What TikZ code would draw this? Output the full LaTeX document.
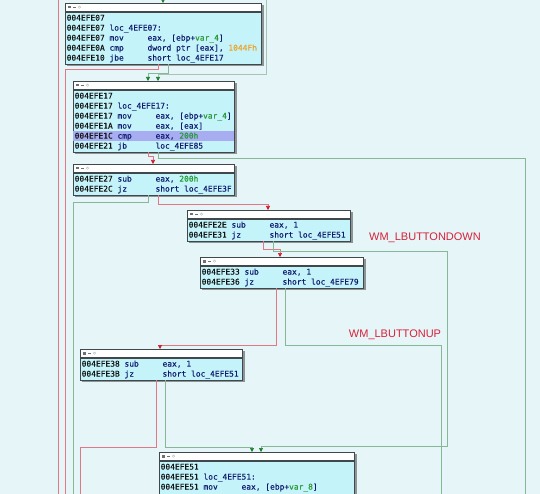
\documentclass[tikz,border=0pt]{standalone}
\usepackage{fontspec}
\usetikzlibrary{calc,arrows.meta}
\newfontfamily\asmfont[FakeBold=0.35]{DejaVu Sans Mono}
\newfontfamily\lblfont{Liberation Sans}
\definecolor{bgc}{HTML}{E6F6F8}
\definecolor{bodyc}{HTML}{C4F4FA}
\definecolor{hdrc}{HTML}{FFFFFF}
\definecolor{framec}{HTML}{40484C}
\definecolor{shadowc}{HTML}{8C9496}
\definecolor{iconc}{HTML}{6A7278}
\definecolor{addrc}{HTML}{141414}
\definecolor{navyc}{HTML}{101C70}
\definecolor{varc}{HTML}{2E9A3A}
\definecolor{numc}{HTML}{F0A020}
\definecolor{grnumc}{HTML}{1E9A2E}
\definecolor{hilitec}{HTML}{A8ACF0}
\definecolor{redlc}{HTML}{E07886}
\definecolor{grnlc}{HTML}{86B898}
\definecolor{greylc}{HTML}{A8C2B4}
\definecolor{redac}{HTML}{D01C2C}
\definecolor{grnac}{HTML}{1E8030}
\definecolor{lblc}{HTML}{D8203A}
\pgfdeclarelayer{bg}
\pgfdeclarelayer{fg}
\pgfsetlayers{bg,main,fg}
\newlength\cw
\newcommand\ad[1]{\makebox[9\cw][l]{\color{addrc}#1}}
\newcommand\mn[1]{\makebox[8\cw][l]{\color{navyc}#1}}
\newcommand\op[1]{{\color{navyc}#1}}
\newcommand\vr[1]{{\color{varc}#1}}
\newcommand\nm[1]{{\color{numc}#1}}
\newcommand\gn[1]{{\color{grnumc}#1}}
\newcommand\rw[1]{\hbox{#1}}
\newcommand\asmrows[1]{\settowidth{\cw}{0}\vtop{\baselineskip=10pt\lineskiplimit=-20pt\lineskip=0pt #1}}
\tikzset{
  hdrbox/.style={draw=framec, fill=hdrc, line width=0.6pt, inner sep=0pt, minimum height=8pt},
  bodybox/.style={draw=framec, fill=bodyc, line width=0.6pt, inner sep=0pt},
  asmtext/.style={inner sep=0pt, anchor=base west, font=\asmfont\fontsize{7.9}{10}\selectfont},
  redl/.style={draw=redlc, line width=0.7pt, -{Triangle[length=4pt,width=4pt,color=redac]}},
  redn/.style={draw=redlc, line width=0.7pt},
  grnl/.style={draw=grnlc, line width=0.7pt, -{Triangle[length=4pt,width=4pt,color=grnac]}},
  grnn/.style={draw=grnlc, line width=0.7pt},
  greyl/.style={draw=greylc, line width=0.7pt, -{Triangle[length=4pt,width=4pt,color=grnac]}},
  wmlabel/.style={inner sep=0pt, text=lblc, font=\lblfont\fontsize{11}{13}\selectfont}
}
% name, left, top, width, body height, rows
\newcommand\idablk[6]{%
  \node[hdrbox, minimum width=#4pt, anchor=north west] (#1h) at (#2,#3) {};
  \node[bodybox, minimum width=#4pt, minimum height=#5pt, anchor=north west] (#1) at (#1h.south west) {};
  \begin{pgfonlayer}{bg}
    \fill[shadowc] ($(#1h.north west)+(2,2)$) rectangle ($(#1.south east)+(2,2)$);
  \end{pgfonlayer}
  \fill[iconc] ($(#1h.north west)+(3,3)$) rectangle ++(2.5,2.5);
  \draw[iconc, line width=0.45pt] ($(#1h.north west)+(8,4.2)$) -- ++(3,0);
  \draw[iconc!45, line width=0.45pt] ($(#1h.north west)+(14.5,4.2)$) circle (1.2);
  \begin{pgfonlayer}{fg}
    \node[asmtext] (#1t) at ($(#1.north west)+(1.5,9)$) {\asmrows{#6}};
  \end{pgfonlayer}
}
\begin{document}
\begin{tikzpicture}[x=1pt,y=-1pt]
\useasboundingbox (0,0) rectangle (540,494);
\begin{pgfonlayer}{bg}
  \fill[bgc] (0,0) rectangle (540,494);
\end{pgfonlayer}

\idablk{b1}{65}{3}{196}{52}{%
  \rw{\ad{004EFE07}}
  \rw{\ad{004EFE07}\op{loc\_4EFE07:}}
  \rw{\ad{004EFE07}\mn{mov}\op{eax, [ebp+}\vr{var\_4}\op{]}}
  \rw{\ad{004EFE0A}\mn{cmp}\op{dword ptr [eax], }\nm{1044Fh}}
  \rw{\ad{004EFE10}\mn{jbe}\op{short loc\_4EFE17}}}

\idablk{b2}{73}{81}{161}{62}{%
  \rw{\ad{004EFE17}}
  \rw{\ad{004EFE17}\op{loc\_4EFE17:}}
  \rw{\ad{004EFE17}\mn{mov}\op{eax, [ebp+}\vr{var\_4}\op{]}}
  \rw{\ad{004EFE1A}\mn{mov}\op{eax, [eax]}}
  \rw{\ad{004EFE1C}\mn{cmp}\op{eax, }\gn{200h}}
  \rw{\ad{004EFE21}\mn{jb}\op{loc\_4EFE85}}}
\fill[hilitec] ($(b2.north west)+(0.3,41)$) rectangle ($(b2.north east)+(-0.3,51)$);

\idablk{b3}{73}{164}{161}{22}{%
  \rw{\ad{004EFE27}\mn{sub}\op{eax, }\gn{200h}}
  \rw{\ad{004EFE2C}\mn{jz}\op{short loc\_4EFE3F}}}

\idablk{b4}{187}{210}{163}{22}{%
  \rw{\ad{004EFE2E}\mn{sub}\op{eax, 1}}
  \rw{\ad{004EFE31}\mn{jz}\op{short loc\_4EFE51}}}

\idablk{b5}{200}{257}{163}{22}{%
  \rw{\ad{004EFE33}\mn{sub}\op{eax, 1}}
  \rw{\ad{004EFE36}\mn{jz}\op{short loc\_4EFE79}}}

\idablk{b6}{80}{349}{162}{22}{%
  \rw{\ad{004EFE38}\mn{sub}\op{eax, 1}}
  \rw{\ad{004EFE3B}\mn{jz}\op{short loc\_4EFE51}}}

\idablk{b7}{159}{452}{195}{60}{%
  \rw{\ad{004EFE51}}
  \rw{\ad{004EFE51}\op{loc\_4EFE51:}}
  \rw{\ad{004EFE51}\mn{mov}\op{eax, [ebp+}\vr{var\_8}\op{]}}}

% free ends
\coordinate (e0s) at (163,-4);
\coordinate (e3s) at (266,-2);
\coordinate (l0a) at (58,-2);
\coordinate (l0b) at (58,500);
\coordinate (e1e) at (65,500);
\coordinate (e5e) at (525,500);
\coordinate (e6e) at (73,500);
\coordinate (c9) at (447,446);
\coordinate (e11e) at (441,500);
\coordinate (e12e) at (80,500);

% connectors
\draw[redn] (l0a) -- (l0b);
\draw[grnl] (e0s) -- ($(b1h.north west)+(98,0)$);
\draw[redn] ($(b1.south west)+(93,0)$) -- ++(0,5) -| (e1e);
\draw[greyl] (e3s) |- ($(b2h.north west)+(85,-7)$) -- ($(b2h.north west)+(85,0)$);
\draw[grnl] ($(b1.south west)+(103,0)$) -- ++(0,9) -| ($(b2h.north west)+(75,0)$);
\draw[redl] ($(b2.south west)+(75,0)$) -- ++(0,4) -| ($(b3h.north west)+(80,0)$);
\draw[grnn] ($(b2.south west)+(85,0)$) -- ++(0,6) -| (e5e);
\draw[grnn] ($(b3.south west)+(75,0)$) -- ++(0,7) -| (e6e);
\draw[redl] ($(b3.south west)+(85,0)$) -- ++(0,9) -| ($(b4h.north west)+(81,0)$);
\draw[redl] ($(b4.south west)+(76,0)$) -- ++(0,8) -| ($(b5h.north west)+(80,0)$);
\draw[grnl] ($(b4.south west)+(86,0)$) -- ++(0,10) -| (c9) -| ($(b7h.north west)+(102,0)$);
\draw[redl] ($(b5.south west)+(76,0)$) -- ++(0,57) -| ($(b6h.north west)+(80,0)$);
\draw[grnn] ($(b5.south west)+(85,0)$) -- ++(0,57) -| (e11e);
\draw[redn] ($(b6.south west)+(76,0)$) -- ++(0,67) -| (e12e);
\draw[grnl] ($(b6.south west)+(85,0)$) -- ++(0,67) -| ($(b7h.north west)+(93,0)$);

\node[wmlabel] (lbd) at (425,238) {WM\_LBUTTONDOWN};
\node[wmlabel] (lbu) at (395,335) {WM\_LBUTTONUP};
\end{tikzpicture}
\end{document}
